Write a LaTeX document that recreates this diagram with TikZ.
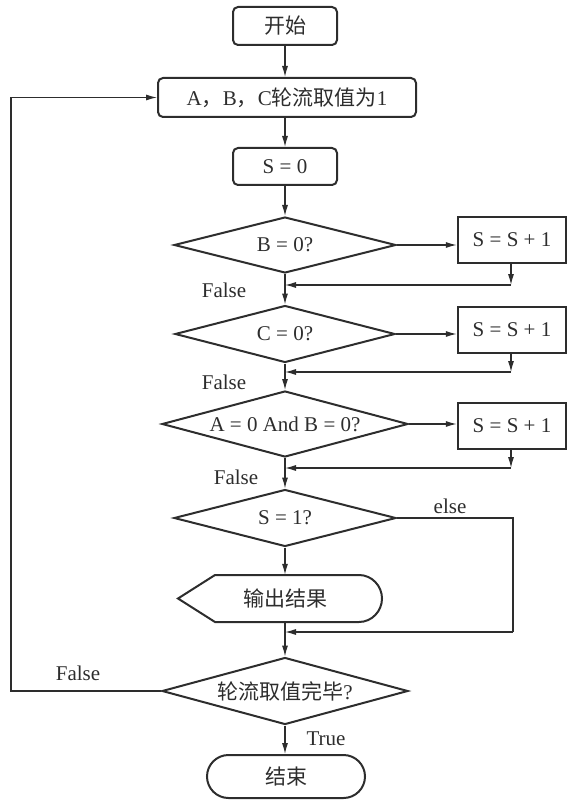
\documentclass[tikz,border=0pt]{standalone}
\usepackage{fontspec}
\setmainfont{Liberation Serif}
\newfontfamily\cjk{Noto Sans CJK SC}
\usetikzlibrary{shapes.geometric,shapes.misc,arrows.meta}
\definecolor{ink}{RGB}{45,45,45}
\begin{document}
\begin{tikzpicture}[x=1pt,y=-1pt,
  every node/.style={text=ink,font=\fontsize{21}{24}\selectfont,inner sep=0pt},
  shp/.style={draw=ink,line width=2pt},
  rbox/.style={shp,rounded corners=5pt},
  pbox/.style={shp,line width=2.4pt},
  dia/.style={shp,diamond},
  conn/.style={draw=ink,line width=1.2pt},
  arr/.style={conn,-{Latex[length=11pt,width=6pt]}},
  lbl/.style={}]
\useasboundingbox (0,0) rectangle (569,802);
% nodes
\node[rbox,minimum width=104pt,minimum height=38pt] (start) at (285,26) {\cjk 开始};
\node[rbox,minimum width=258pt,minimum height=39pt] (abc) at (287,97.5) {A{\cjk ，}B{\cjk ，}C{\cjk 轮流取值为}1};
\node[rbox,minimum width=104pt,minimum height=37pt] (s0) at (285,166.5) {S = 0};
\node[dia,minimum width=222pt,minimum height=56pt,aspect=3.96] (dB) at (285,245) {B = 0?};
\node[dia,minimum width=220pt,minimum height=57pt,aspect=3.86] (dC) at (285,334) {C = 0?};
\node[dia,minimum width=246pt,minimum height=66pt,aspect=3.73] (dA) at (285,424) {A = 0 And B = 0?};
\node[dia,minimum width=222pt,minimum height=57pt,aspect=3.89] (dS) at (285,518) {S = 1?};
\node[dia,minimum width=246pt,minimum height=67pt,aspect=3.67] (dE) at (285,691) {{\cjk 轮流取值完毕}?};
\node[pbox,minimum width=108pt,minimum height=46pt] (b1) at (512,240) {S = S + 1};
\node[pbox,minimum width=108pt,minimum height=46pt] (b2) at (512,330) {S = S + 1};
\node[pbox,minimum width=108pt,minimum height=46pt] (b3) at (512,426) {S = S + 1};
\node[minimum width=204pt,minimum height=47pt] (out) at (285,598.5) {\cjk 输出结果};
\draw[shp] (178,598.5) -- (215,575) -- (359,575)
  .. controls (372,575) and (382,586) .. (382,598.5)
  .. controls (382,611) and (372,622) .. (359,622) -- (215,622) -- cycle;
\node[shp,rounded rectangle,minimum width=158pt,minimum height=43pt] (end) at (286,776.5) {\cjk 结束};
% labels
\node[lbl] (f1) at (224,290) {False};
\node[lbl] (f2) at (224,382) {False};
\node[lbl] (f3) at (236,477) {False};
\node[lbl] (el) at (450,506) {else};
\node[lbl] (f5) at (78,673) {False};
\node[lbl] (tr) at (326,739) {True};
% coordinates
\coordinate (c1) at (511,285);
\coordinate (c2) at (511,372);
\coordinate (c3) at (511,468);
\coordinate (c4) at (513,632);
% connectors
\draw[arr] (start.south) -- (start.south |- abc.north);
\draw[arr] (abc.south -| s0.north) -- (s0.north);
\draw[arr] (s0.south) -- (dB.north);
\draw[arr] (dB.south) -- (dC.north);
\draw[arr] (dC.south) -- (dA.north);
\draw[arr] (dA.south) -- (dS.north);
\draw[arr] (dS.south) -- (out.north);
\draw[arr] (out.south) -- (dE.north);
\draw[arr] (dE.south) -- (dE.south |- end.north);
\draw[arr] (dB.east) -- (dB.east -| b1.west);
\draw[arr] (dC.east) -- (dC.east -| b2.west);
\draw[arr] (dA.east) -- (dA.east -| b3.west);
\draw[arr] (b1.south -| c1) -- (c1);
\draw[arr] (c1) -- (c1 -| dB.south);
\draw[arr] (b2.south -| c2) -- (c2);
\draw[arr] (c2) -- (c2 -| dC.south);
\draw[arr] (b3.south -| c3) -- (c3);
\draw[arr] (c3) -- (c3 -| dA.south);
\draw[conn] (dS.east) -| (c4);
\draw[arr] (c4) -- (c4 -| dS.south);
\draw[arr] (dE.west) -- ++(-150,0) |- (abc.west);
\end{tikzpicture}
\end{document}
